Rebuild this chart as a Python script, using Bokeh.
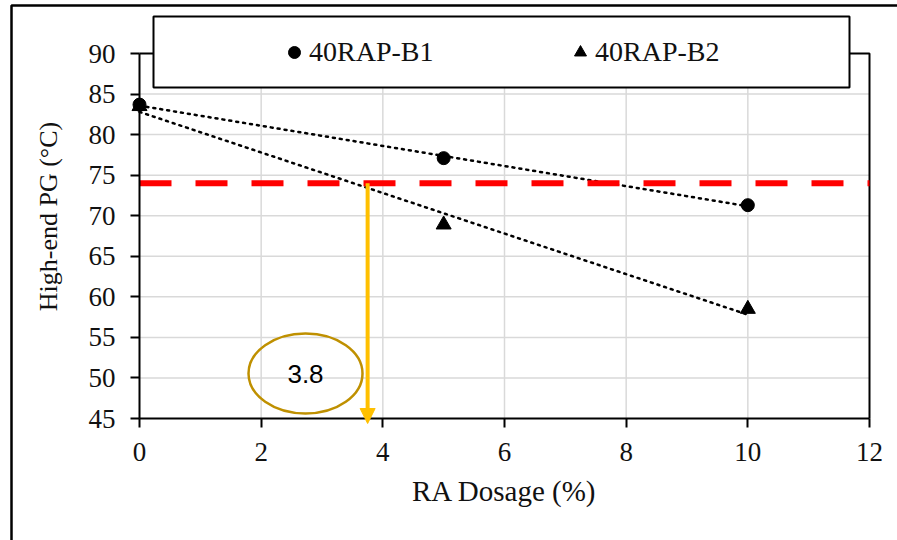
import numpy as np
from bokeh.plotting import figure
from bokeh.models import (Range1d, LinearAxis, FixedTicker, Arrow, NormalHead,
                          BoxAnnotation, Label, Legend, LegendItem, ColumnDataSource)
from bokeh.embed import file_html
from bokeh.resources import INLINE

# ---- data ----
dosage = [0, 5, 10]
b1_pg = [83.7, 77.1, 71.3]
b2_pg = [83.5, 68.9, 58.5]
series_names = ["40RAP-B1", "40RAP-B2"]
x_ticks = [0, 2, 4, 6, 8, 10, 12]
y_ticks = [45, 50, 55, 60, 65, 70, 75, 80, 85, 90]
threshold_pg = 74.0
answer_dosage = 3.75
answer_text = "3.8"

# ---- layout (canvas pixels) ----
W, H = 897, 540
PL, PR, PT, PB = 139, 869, 53, 418          # plot area edges
XMIN, XMAX, YMIN, YMAX = 0, 12, 45, 90
XS = (PR - PL) / (XMAX - XMIN)
YS = (PB - PT) / (YMAX - YMIN)


def px2x(px):
    return XMIN + (px - PL) / XS


def py2y(py):
    return YMAX - (py - PT) / YS


SERIF = "Liberation Serif"
TXT = "#111111"

p = figure(width=W, height=H, output_backend="svg", toolbar_location=None,
           x_range=Range1d(px2x(0), px2x(W)), y_range=Range1d(py2y(H), py2y(0)),
           x_axis_location=None, y_axis_location=None, min_border=0)
p.outline_line_color = None
p.grid.visible = False
p.background_fill_color = "white"
p.border_fill_color = "white"

# grid lines (restricted to plot area)
gx = [t for t in x_ticks if XMIN < t < XMAX]
gy = [t for t in y_ticks if YMIN < t < YMAX]
p.segment(x0=gx, x1=gx, y0=[YMIN] * len(gx), y1=[YMAX] * len(gx),
          line_color="#d9d9d9", line_width=1.5)
p.segment(x0=[XMIN] * len(gy), x1=[XMAX] * len(gy), y0=gy, y1=gy,
          line_color="#d9d9d9", line_width=1.5)

# plot-area top/right border
p.line([XMIN, XMAX, XMAX], [YMAX, YMAX, YMIN], line_color="black", line_width=2)

# axes
xax = LinearAxis(fixed_location=YMIN, bounds=(XMIN, XMAX), ticker=FixedTicker(ticks=x_ticks))
yax = LinearAxis(fixed_location=XMIN, bounds=(YMIN, YMAX), ticker=FixedTicker(ticks=y_ticks))
for ax in (xax, yax):
    ax.axis_line_width = 2
    ax.axis_line_color = "black"
    ax.major_tick_line_width = 2
    ax.major_tick_line_color = "black"
    ax.major_tick_out = 9
    ax.major_tick_in = 0
    ax.minor_tick_line_color = None
    ax.major_label_text_font = SERIF
    ax.major_label_text_font_size = "27px"
    ax.major_label_text_color = TXT
yax.major_label_standoff = 15
xax.major_label_standoff = 15
xax.axis_label = "RA Dosage (%)"
xax.axis_label_text_font = SERIF
xax.axis_label_text_font_size = "29px"
xax.axis_label_text_font_style = "normal"
xax.axis_label_text_color = TXT
xax.axis_label_standoff = 11
p.add_layout(xax, "below")
p.add_layout(yax, "left")

# trendlines (linear fits of each series)
xs_fit = np.array([min(dosage), max(dosage)], dtype=float)
for ys in (b1_pg, b2_pg):
    k, b = np.polyfit(dosage, ys, 1)
    p.line(xs_fit, k * xs_fit + b, line_color="black", line_width=2.5,
           line_dash="2 5", line_cap="round")

# series markers
src = ColumnDataSource(dict(x=dosage, b1=b1_pg, b2=b2_pg))
r2 = p.scatter("x", "b2", source=src, marker="triangle", size=15,
               fill_color="black", line_color="black")
r1 = p.scatter("x", "b1", source=src, marker="circle", size=13,
               fill_color="black", line_color="black")

# threshold line
p.segment(x0=[XMIN], x1=[XMAX], y0=[threshold_pg], y1=[threshold_pg],
          line_color="#ff0000", line_width=6, line_dash="32 24")

# arrow down to x axis
p.add_layout(Arrow(x_start=answer_dosage, y_start=threshold_pg, x_end=answer_dosage,
                   y_end=py2y(PB + 5), line_color="#ffc000", line_width=4,
                   end=NormalHead(size=15, fill_color="#ffc000", line_color="#ffc000",
                                  line_width=1)))

# ellipse with answer
ex, ey = px2x(305), py2y(373)
p.ellipse(x=[ex], y=[ey], width=[114 / XS], height=[80 / YS], fill_color=None,
          line_color="#bf9000", line_width=2.5)
p.add_layout(Label(x=ex, y=ey, text=answer_text, text_align="center", text_baseline="middle",
                   text_font="Liberation Sans", text_font_size="26px", text_color="black"))

# y axis title
p.add_layout(Label(x=px2x(48), y=py2y(216), text="High-end PG (°C)",
                   angle=90, angle_units="deg", text_align="center", text_baseline="middle",
                   text_font=SERIF, text_font_size="26px", text_color=TXT))

# outer chart border (left and top edges)
p.line([px2x(11), px2x(11), px2x(W + 5)], [py2y(H + 5), py2y(5), py2y(5)],
       line_color="black", line_width=2.5)

# legend box
p.add_layout(BoxAnnotation(left=px2x(153), right=px2x(849), top=py2y(16), bottom=py2y(87),
                           fill_color="white", fill_alpha=1, line_color="black",
                           line_alpha=1, line_width=2))

legend = Legend(items=[LegendItem(label=series_names[0], renderers=[r1]),
                       LegendItem(label=series_names[1], renderers=[r2])],
                location=(279, H - 68), orientation="horizontal",
                border_line_alpha=0, background_fill_alpha=0,
                padding=0, margin=0, glyph_width=30, glyph_height=30,
                label_standoff=0, label_width=130, spacing=126,
                label_text_font=SERIF, label_text_font_size="28px",
                label_text_color=TXT)
p.add_layout(legend)

open("out.html", "w").write(file_html(p, INLINE))
